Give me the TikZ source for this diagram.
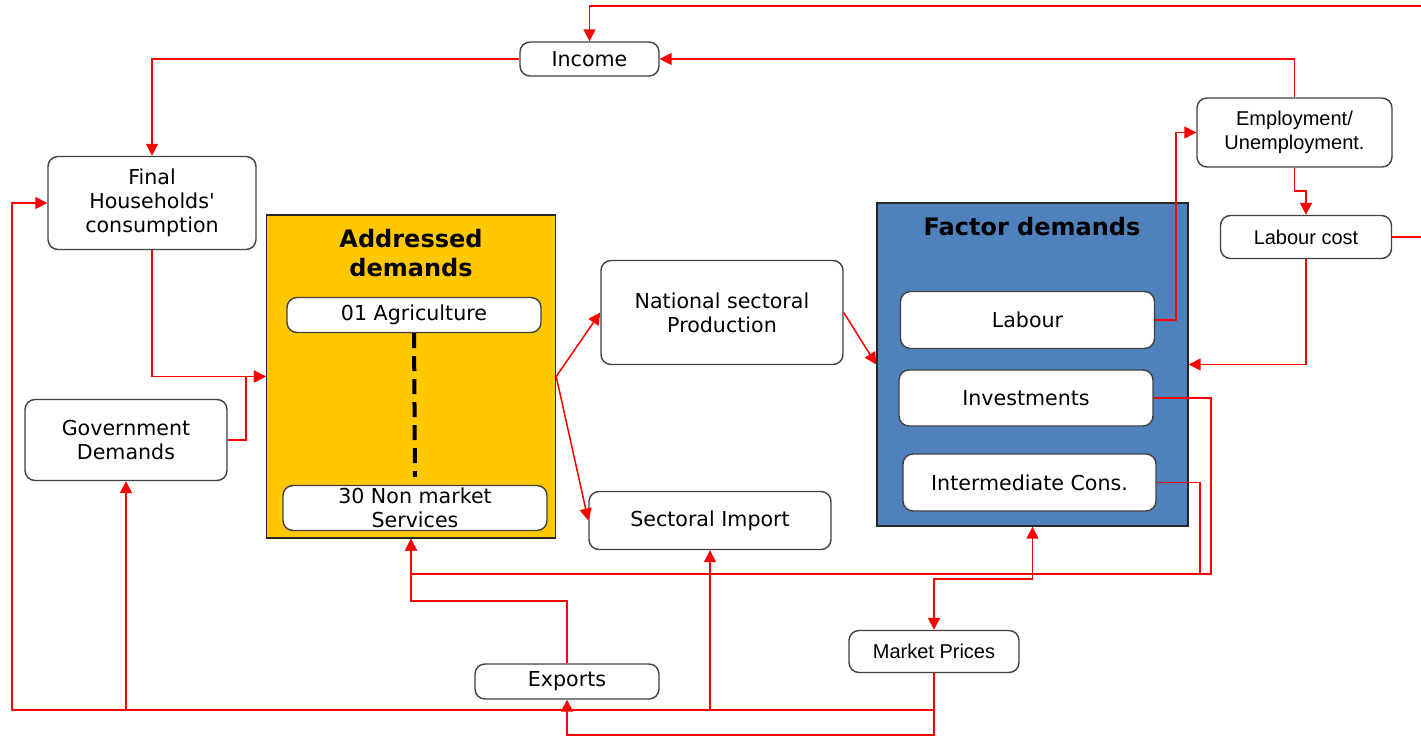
\documentclass[tikz,border=0pt]{standalone}
\usepackage{fontspec}
\setmainfont{DejaVu Sans}
\newfontfamily\arialfont{Liberation Sans}
\usetikzlibrary{arrows.meta}

\definecolor{sectoryellow}{HTML}{FFC800}
\definecolor{factorblue}{HTML}{4F81BD}
\definecolor{linkred}{HTML}{FF0000}

\begin{document}
\begin{tikzpicture}[x=0.5pt, y=-0.5pt,
        font=\fontsize{10.3}{12}\selectfont,
        box/.style={rectangle, rounded corners=5pt, draw=black!75, fill=white, line width=0.7pt, align=center, inner sep=0pt},
        group/.style={rectangle, draw=black!85, line width=0.7pt, inner sep=0pt},
        title/.style={font=\bfseries\fontsize{12}{14.5}\selectfont, align=center},
        wire/.style={draw=linkred, line width=0.75pt},
        link/.style={wire, -{Triangle[length=6pt, width=6pt]}},
        biglink/.style={wire, {Triangle[length=6pt, width=6pt]}-{Triangle[length=6pt, width=6pt]}}]

        \path[use as bounding box, clip] (0,0) rectangle (1421,739);

        % groups
        \node[group, fill=sectoryellow, minimum width=144.5pt, minimum height=161.5pt] at (411, 376.5) (addr){};
        \node[title] at (411, 253) (addrtitle){Addressed\\demands};
        \node[group, fill=factorblue, minimum width=155.5pt, minimum height=161.5pt] at (1032.5, 364.5) (factor){};
        \node[title] at (1032, 227) (factortitle){Factor demands};

        % boxes
        \node[box, minimum width=69.5pt, minimum height=17pt] at (589.5, 59) (income){Income};
        \node[box, minimum width=104pt, minimum height=46.5pt] at (152, 203) (hh){Final\\Households\textquotesingle\\consumption};
        \node[box, minimum width=101pt, minimum height=40.5pt] at (126, 440) (gov){Government\\Demands};

        \node[box, minimum width=127pt, minimum height=17.5pt] at (414, 315) (agri){01 Agriculture};
        \node[box, minimum width=132pt, minimum height=22.5pt] at (415, 508) (nonmkt){30 Non market\\Services};

        \node[box, minimum width=121pt, minimum height=52pt] at (722, 312.5) (natprod){National sectoral\\Production};
        \node[box, minimum width=121pt, minimum height=29pt] at (710, 520.5) (import){Sectoral Import};

        \node[box, minimum width=127pt, minimum height=28.5pt] at (1027.5, 320) (labour){Labour};
        \node[box, minimum width=127pt, minimum height=28pt] at (1026, 398) (invest){Investments};
        \node[box, minimum width=126.5pt, minimum height=28.5pt] at (1029.5, 482.5) (intcons){Intermediate Cons.};

        \node[box, font=\arialfont, minimum width=97.5pt, minimum height=34.5pt] at (1294.5, 132.5) (employ){Employment/\\Unemployment.};
        \node[box, font=\arialfont, minimum width=85.5pt, minimum height=21.5pt] at (1306, 237) (labcost){Labour cost};
        \node[box, font=\arialfont, minimum width=85pt, minimum height=21pt] at (934, 651.5) (prices){Market Prices};
        \node[box, minimum width=92pt, minimum height=17.5pt] at (567, 681.5) (exports){Exports};

        % sectors in between
        \draw[line width=2pt, dash pattern=on 7.5pt off 4pt] (agri.south) -- ([yshift=4pt]nonmkt.north);

        % top loop
        \draw[link] (labcost.east) -- (1440, 237) -- (1440, 6) -| (income.north);
        \draw[link] (employ.north) |- (income.east);
        \draw[link] (income.west) -| (hh.north);

        % final demands
        \draw[link] (hh.south) |- (addr.west);
        \draw[link] (gov.east) -- (246, 440) |- (addr.west);

        \draw[link] (addr.east) -- (natprod.west);
        \draw[link] (addr.east) -- (import.west);
        \draw[link] (natprod.east) -- (factor.west);

        % labour market
        \draw[link] (labour.east) -- (1176, 320) |- (employ.west);
        \draw[link] (employ.south) -- (1294.5, 191) -| (labcost.north);
        \draw[link] (labcost.south) |- (factor.east);

        % back to addressed demands
        \draw[link] (invest.east) -| (1211, 574) -| (addr.south);
        \draw[wire] (intcons.east) -| (1200, 574);
        \draw[link] (exports.north) |- (411, 601) -- (addr.south);
        \draw[biglink] (prices.north) |- (1032.5, 579) -- (factor.south);

        % prices
        \draw[link] (prices.south) |- (12, 710) |- (hh.west);
        \draw[link] (126, 710) -- (gov.south);
        \draw[link] (710, 710) -- (import.south);
        \draw[link] (prices.south) -- (934, 735) -| (exports.south);
\end{tikzpicture}
\end{document}
